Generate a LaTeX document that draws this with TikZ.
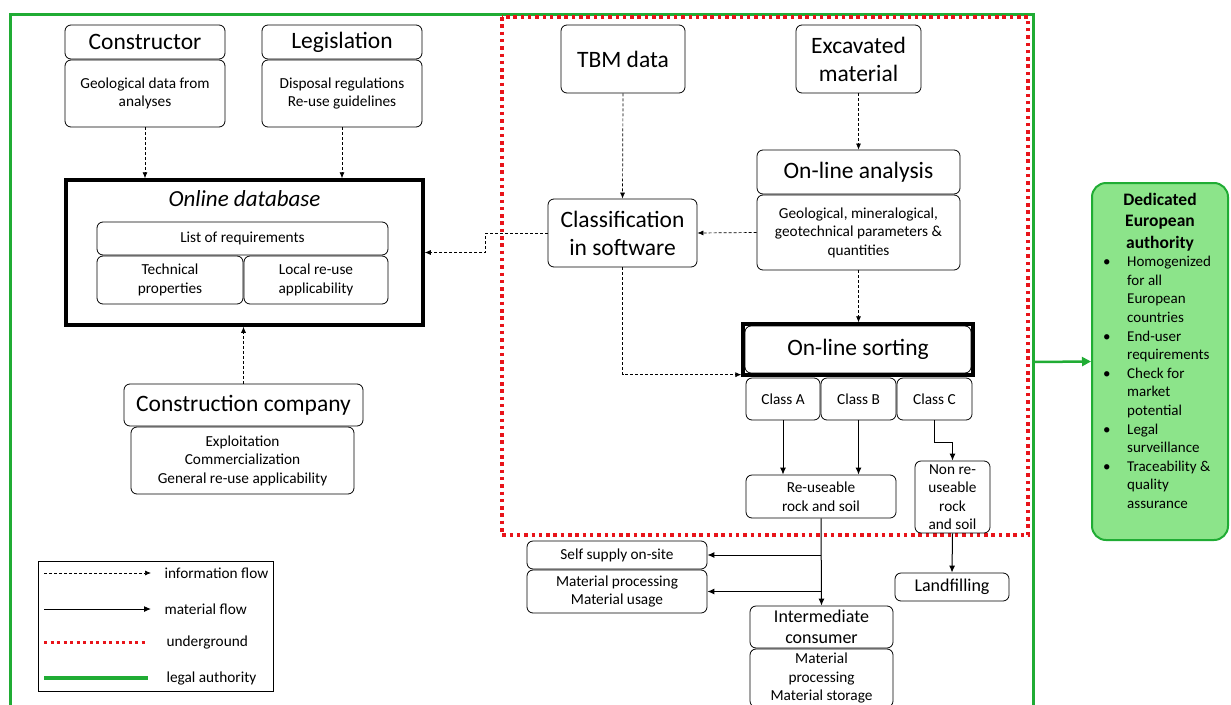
\documentclass[tikz,border=0pt]{standalone}
\usepackage{fontspec}
\setmainfont{Carlito}
\usetikzlibrary{arrows.meta,fit}
\definecolor{legalgreen}{RGB}{32,172,52}
\definecolor{authfill}{RGB}{140,228,138}
\definecolor{ugred}{RGB}{232,20,26}

\begin{document}
\begin{tikzpicture}[x=1pt, y=-1pt,
    box/.style={draw, rounded corners=6pt, align=center, inner sep=1pt, line width=0.8pt},
    big/.style={font=\fontsize{23.5}{28}\selectfont},
    mid/.style={font=\fontsize{18}{20.5}\selectfont},
    small/.style={font=\fontsize{15.3}{18.5}\selectfont},
    frame/.style={draw, line width=3.5pt},
    info/.style={-{Latex[length=6pt,width=5pt]}, dash pattern=on 3pt off 2pt, line width=0.7pt},
    matflow/.style={-{Latex[length=7pt,width=6pt]}, line width=1pt},
    underground/.style={ugred, line width=3.5pt, dash pattern=on 3.5pt off 3.8pt},
    legal/.style={legalgreen, line width=3pt}]
    \useasboundingbox (0,0) rectangle (1231,704);

    % frames: legal authority and underground
    \draw[legal] (10,14) rectangle (1033,730);
    \draw[underground] (502,17) rectangle (1028,535);

    % left part
    \node[box, big, minimum width=160, minimum height=34] (constr) at (145,42) {Constructor};
    \node[box, small, minimum width=160, minimum height=67] (constrbody) at (145,93.5) {Geological data from\\analyses};
    \node[box, big, minimum width=160, minimum height=34] (legis) at (342,42) {Legislation};
    \node[box, small, minimum width=160, minimum height=67] (legisbody) at (342,93.5) {Disposal regulations\\Re-use guidelines};

    \node[frame, minimum width=357, minimum height=145] (db) at (244.5,252.5) {};
    \node[big, font=\fontsize{23}{27}\selectfont\itshape] (dbtitle) at (244.5,199) {Online database};
    \node[box, small, minimum width=291, minimum height=33] (req) at (242.5,238.5) {List of requirements};
    \node[box, small, minimum width=146, minimum height=48] (tech) at (170,280) {Technical\\properties};
    \node[box, small, minimum width=144, minimum height=48] (local) at (316,280) {Local re-use\\applicability};

    \node[box, big, minimum width=239, minimum height=42] (company) at (243.5,405) {Construction company};
    \node[box, small, minimum width=223, minimum height=67] (companybody) at (242.5,460.5) {Exploitation\\Commercialization\\General re-use applicability};

    \draw[info] (constrbody.south) -- (constrbody.south |- db.north);
    \draw[info] (legisbody.south) -- (legisbody.south |- db.north);
    \draw[info] (company.north) -- (company.north |- db.south);

    % underground part
    \node[box, big, minimum width=124, minimum height=68] (tbm) at (623,59) {TBM data};
    \node[box, big, minimum width=125, minimum height=68] (excav) at (858.5,59) {Excavated\\material};
    \node[box, big, minimum width=149, minimum height=68] (classif) at (622.5,233) {Classification\\in software};
    \node[box, big, minimum width=203, minimum height=44] (analysis) at (858.5,172) {On-line analysis};
    \node[box, small, minimum width=203, minimum height=75] (analysisbody) at (858.5,232.5) {Geological, mineralogical,\\geotechnical parameters \&\\quantities};

    \node[box, big, minimum width=226, minimum height=47] (sorting) at (858,349.5) {On-line sorting};
    \node[frame, fit=(sorting), inner sep=1.5pt] (sortframe) {};
    \node[box, small, minimum width=74, minimum height=42] (classA) at (783,399) {Class A};
    \node[box, small, minimum width=75, minimum height=42] (classB) at (858.5,399) {Class B};
    \node[box, small, minimum width=75, minimum height=42] (classC) at (934.5,399) {Class C};
    \node[box, small, minimum width=150, minimum height=43] (reuse) at (821,496.5) {Re-useable\\rock and soil};
    \node[box, small, font=\fontsize{15.3}{18.3}\selectfont, minimum width=75, minimum height=72] (nonreuse) at (952.5,497) {Non re-\\useable\\rock\\and soil};

    \draw[info] (tbm.south) -- (classif.north);
    \draw[info] (excav.south) -- (analysis.north);
    \draw[info] (analysisbody.west) -- (classif.east);
    \draw[info] (analysisbody.south) -- (analysisbody.south |- sortframe.north);
    \draw[info] (classif.west) -- ++(-62,0) |- (db.east);
    \draw[info] (classif.south) |- ([yshift=2pt]sortframe.south west);

    \draw[matflow] (classA.south) -- (classA.south |- reuse.north);
    \draw[matflow] (classB.south) -- (classB.south |- reuse.north);
    \draw[matflow] (classC.south) -- ++(0,22) -| (nonreuse.north);

    % outside the underground
    \node[box, small, minimum width=180, minimum height=28] (selfsup) at (617,555) {Self supply on-site};
    \node[box, small, minimum width=180, minimum height=43] (matproc) at (617,591.5) {Material processing\\Material usage};
    \node[box, mid, minimum width=143, minimum height=42] (interm) at (821.5,627) {Intermediate\\consumer};
    \node[box, small, minimum width=143, minimum height=58] (intermbody) at (821.5,678) {Material\\processing\\Material storage};
    \node[box, mid, minimum width=114, minimum height=28] (landfill) at (952,587) {Landfilling};

    \draw[matflow] (reuse.south) -- (interm.north);
    \draw[matflow] (reuse.south |- selfsup.east) -- (selfsup.east);
    \draw[matflow] (reuse.south |- matproc.east) -- (matproc.east);
    \draw[matflow] (nonreuse.south) -- (landfill.north);

    % authority
    \node[draw=legalgreen, fill=authfill, line width=2pt, rounded corners=14pt, minimum width=136, minimum height=357] (authority) at (1160,361.5) {};
    \node[font=\fontsize{17.5}{21.5}\selectfont\bfseries, align=center] (authtitle) at (1160,222) {Dedicated\\European\\authority};
    \node[font=\fontsize{15}{18.6}\selectfont, align=left, anchor=north west, inner sep=0pt] (authlist) at (1103,256)
        {\makebox[24pt][l]{\textbullet}Homogenized\\\hspace*{24pt}for all\\\hspace*{24pt}European\\\hspace*{24pt}countries\\
         \makebox[24pt][l]{\textbullet}End-user\\\hspace*{24pt}requirements\\
         \makebox[24pt][l]{\textbullet}Check for\\\hspace*{24pt}market\\\hspace*{24pt}potential\\
         \makebox[24pt][l]{\textbullet}Legal\\\hspace*{24pt}surveillance\\
         \makebox[24pt][l]{\textbullet}Traceability \&\\\hspace*{24pt}quality\\\hspace*{24pt}assurance};
    \coordinate (legalout) at (1033,362);
    \draw[legalgreen, line width=2.5pt, -{Triangle[length=9pt,width=9pt]}] (legalout) -- (authority.west);

    % legend
    \node[draw, line width=0.8pt, minimum width=235, minimum height=130] (legend) at (155.5,626) {};
    \coordinate (l1) at (44,573);
    \coordinate (l2) at (44,609);
    \coordinate (l3) at (44,642);
    \coordinate (l4) at (44,678);
    \node[small, anchor=west] (t1) at (161,573) {information flow};
    \node[small, anchor=west] (t2) at (161,609) {material flow};
    \node[small, anchor=west] (t3) at (163,642) {underground};
    \node[small, anchor=west] (t4) at (163,678) {legal authority};
    \draw[info] (l1) -- ([xshift=-10pt]t1.west);
    \draw[matflow] (l2) -- ([xshift=-10pt]t2.west);
    \draw[ugred, line width=3pt, dash pattern=on 3pt off 3.5pt] (l3) -- ([xshift=-15pt]t3.west);
    \draw[legal, line width=3.5pt] (l4) -- ([xshift=-15pt]t4.west);
\end{tikzpicture}
\end{document}
